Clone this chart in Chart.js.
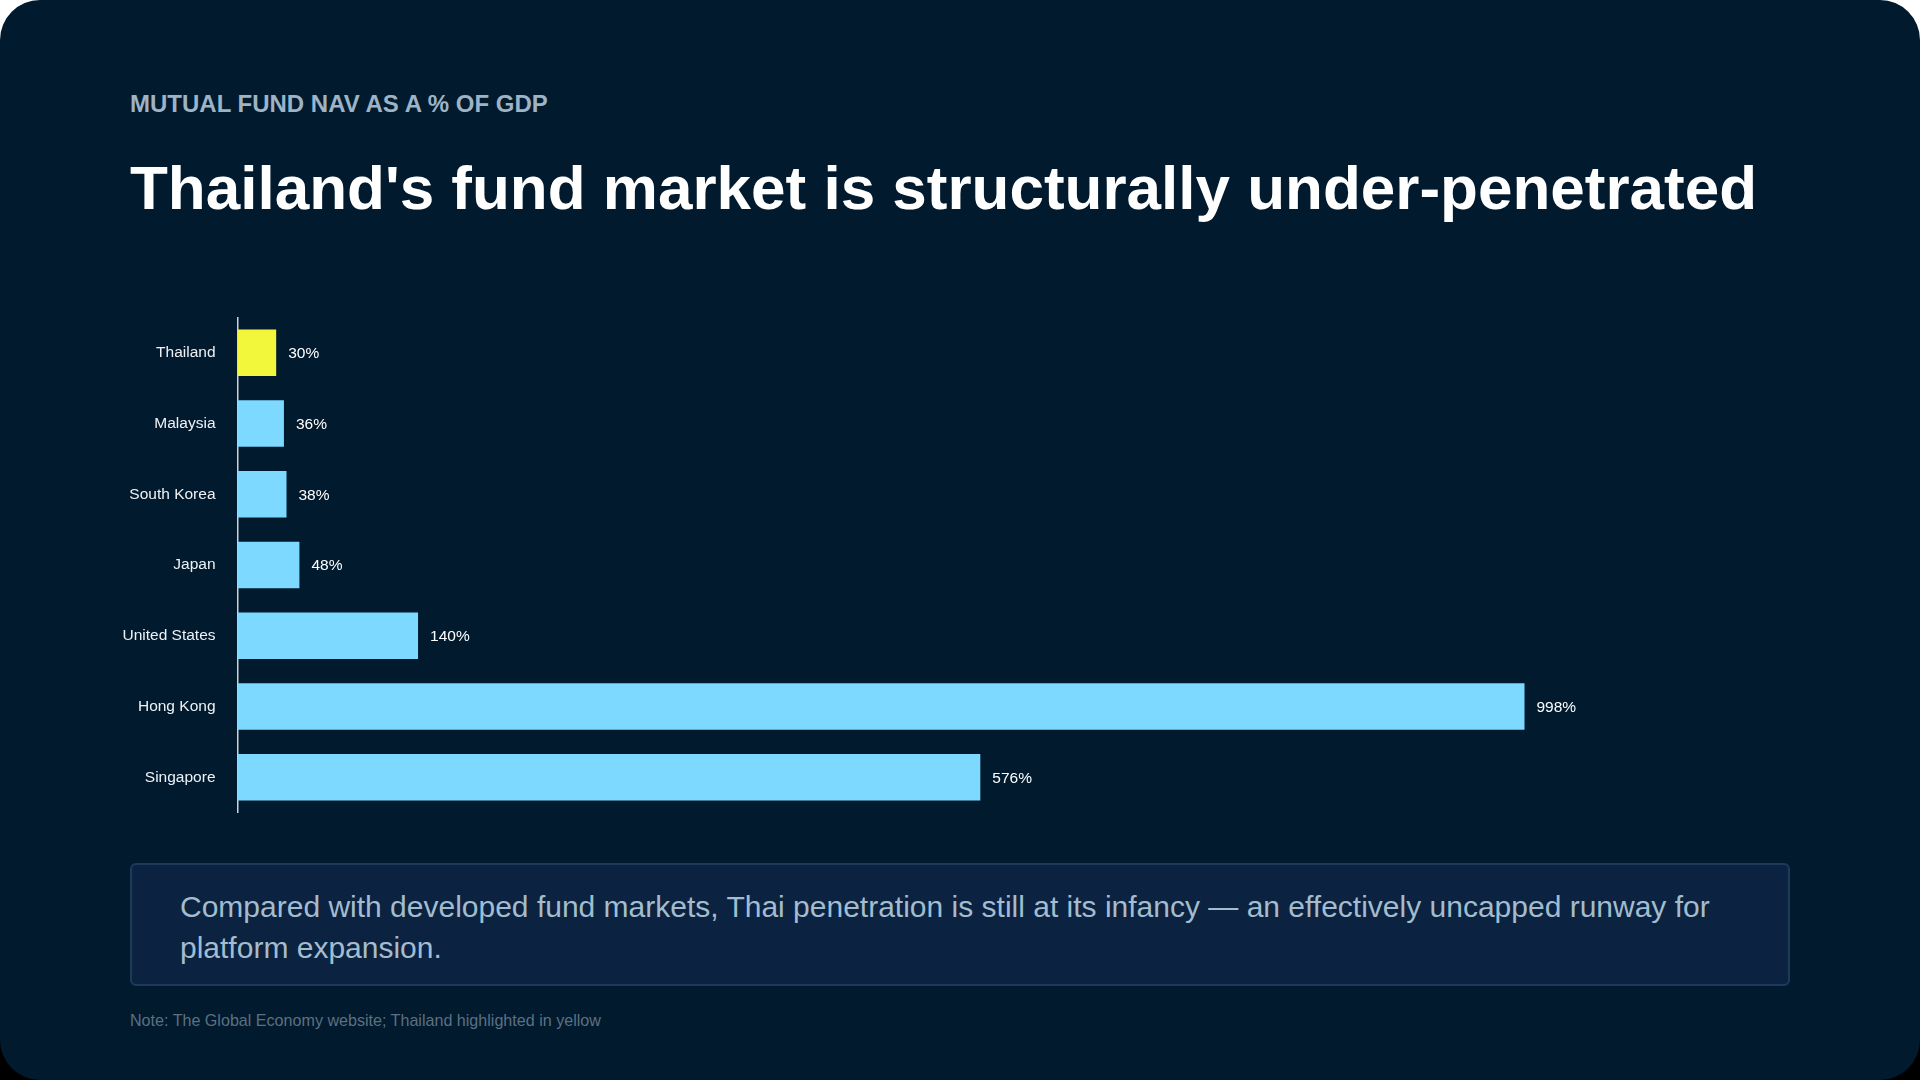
<!DOCTYPE html>
<html>
<head>
<meta charset="utf-8">
<script src="https://cdn.jsdelivr.net/npm/chart.js@4.4.1/dist/chart.umd.min.js"></script>
<style>
  html, body { margin:0; padding:0; width:1920px; height:1080px; overflow:hidden;
    background: linear-gradient(#ffffff 50%, #000000 50%); }
  #card { position:absolute; left:0; top:0; width:1920px; height:1080px; background:#011a2e;
    border-radius:40px; font-family:"Liberation Sans", Arial, sans-serif; }
  #sub { position:absolute; left:130px; top:92px; font-size:24px; font-weight:bold; color:#9db3c6;
    line-height:24px; white-space:nowrap; }
  #title { position:absolute; left:130px; top:157px; font-size:62px; font-weight:bold; color:#ffffff;
    line-height:62px; white-space:nowrap; }
  #chartWrap { position:absolute; left:100px; top:286px; width:1700px; height:558px; }
  #box { position:absolute; left:130px; top:863px; width:1656px; height:119px; box-sizing:content-box;
    background:#0b2340; border:2px solid #1d3a5c; border-radius:6px; }
  #boxText { position:absolute; left:48px; top:22px; right:40px; font-size:30px; line-height:40.5px; color:#a3bccf; }
  #note { position:absolute; left:130px; top:1011px; font-size:16.1px; color:#5c7082; white-space:nowrap; }
</style>
</head>
<body>
<div id="card">
  <div id="sub">MUTUAL FUND NAV AS A % OF GDP</div>
  <div id="title">Thailand's fund market is structurally under-penetrated</div>
  <div id="chartWrap"><canvas id="c"></canvas></div>
  <div id="box"><div id="boxText">Compared with developed fund markets, Thai penetration is still at its infancy — an effectively uncapped runway for platform expansion.</div></div>
  <div id="note">Note: The Global Economy website; Thailand highlighted in yellow</div>
</div>
<script>
const categories = ["Thailand", "Malaysia", "South Korea", "Japan", "United States", "Hong Kong", "Singapore"];
const navPctGdp = [30, 36, 38, 48, 140, 998, 576];
const barColors = ["#f2f73c", "#7dd9ff", "#7dd9ff", "#7dd9ff", "#7dd9ff", "#7dd9ff", "#7dd9ff"];
const valueLabels = ["30%", "36%", "38%", "48%", "140%", "998%", "576%"];

const FONT = '"Liberation Sans", Arial, sans-serif';

const valueLabelPlugin = {
  id: 'valueLabels',
  afterDatasetsDraw(chart) {
    const ctx = chart.ctx;
    const meta = chart.getDatasetMeta(0);
    ctx.save();
    ctx.font = '15.5px ' + FONT;
    ctx.fillStyle = '#ffffff';
    ctx.textAlign = 'left';
    ctx.textBaseline = 'middle';
    meta.data.forEach((bar, i) => {
      ctx.fillText(valueLabels[i], bar.x + 12, bar.y + 1);
    });
    ctx.restore();
  }
};

new Chart(document.getElementById('c'), {
  type: 'bar',
  data: {
    labels: categories,
    datasets: [{
      data: navPctGdp,
      backgroundColor: barColors,
      borderWidth: 0,
      barPercentage: 0.82,
      categoryPercentage: 0.8
    }]
  },
  options: {
    indexAxis: 'y',
    responsive: true,
    maintainAspectRatio: false,
    animation: false,
    devicePixelRatio: 1,
    layout: { padding: { top: 0, bottom: 0, left: 0, right: 15 } },
    plugins: { legend: { display: false }, tooltip: { enabled: false } },
    scales: {
      x: { display: false, min: 0, max: 1200 },
      y: {
        grid: { display: false, drawTicks: false },
        border: { display: true, color: '#c9d1d9', width: 1.5 },
        ticks: { color: '#eef2f6', font: { family: FONT, size: 15.5 }, padding: 22 },
        afterFit(axis) { axis.width = 137.5; }
      }
    }
  },
  plugins: [valueLabelPlugin]
});
</script>
</body>
</html>
